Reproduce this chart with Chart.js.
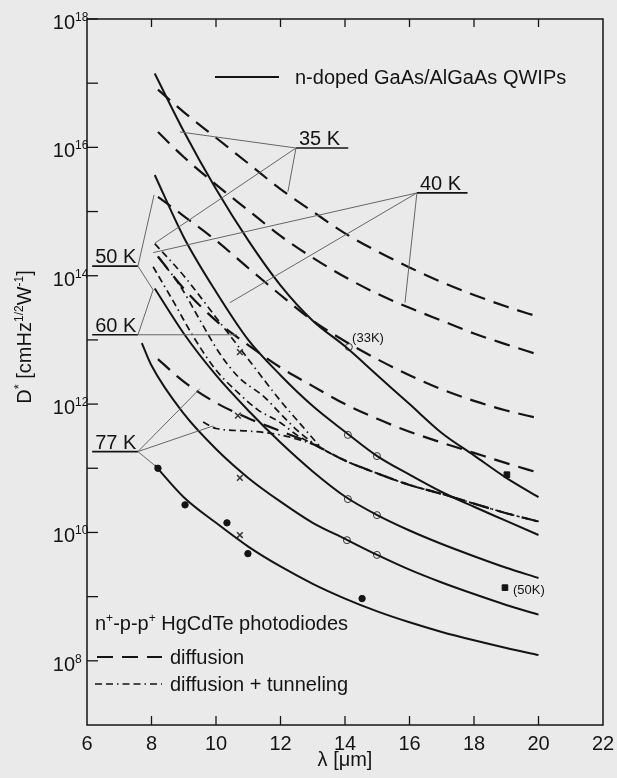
<!DOCTYPE html>
<html>
<head>
<meta charset="utf-8">
<script src="https://cdn.jsdelivr.net/npm/chart.js@4/dist/chart.umd.min.js"></script>
<style>
  html, body { margin: 0; padding: 0; background: #eaeaea; }
  #wrap { width: 617px; height: 778px; position: relative; }
</style>
</head>
<body>
<div id="wrap"><canvas id="chart"></canvas></div>
<script>
// cutoff wavelength [um] and log10 of D*
const qwipLam = [8.1, 9, 10, 11, 12, 13, 14, 15, 16, 17, 18, 19, 20];
const qwip35 = [17.15, 16.25, 15.35, 14.55, 13.85, 13.3, 12.9, 12.45, 12.0, 11.55, 11.2, 10.85, 10.55];
const qwip40 = [15.57, 14.6, 13.75, 13.0, 12.45, 11.97, 11.57, 11.19, 10.9, 10.63, 10.4, 10.18, 9.96];
const qwip50 = [13.8, 13.1, 12.45, 11.9, 11.4, 10.95, 10.56, 10.27, 10.03, 9.82, 9.63, 9.45, 9.29];
const qwip60Lam = [7.7, 8, 9, 10, 11, 12, 13, 14, 15, 16, 17, 18, 19, 20];
const qwip60 = [12.95, 12.6, 11.85, 11.3, 10.85, 10.48, 10.15, 9.9, 9.65, 9.42, 9.22, 9.04, 8.87, 8.72];
const qwip77 = [11.05, 10.55, 10.15, 9.78, 9.47, 9.2, 8.97, 8.77, 8.6, 8.45, 8.32, 8.2, 8.09];

const difLam = [8.2, 9, 10, 11, 12, 13, 14, 15, 16, 17, 18, 19, 20];
const dif1 = [16.9, 16.55, 16.15, 15.75, 15.35, 15.0, 14.66, 14.38, 14.13, 13.9, 13.7, 13.52, 13.36];
const dif2 = [16.24, 15.85, 15.42, 15.02, 14.62, 14.28, 13.98, 13.72, 13.5, 13.3, 13.1, 12.93, 12.77];
const dif3 = [15.23, 14.93, 14.55, 14.12, 13.7, 13.3, 12.98, 12.7, 12.45, 12.23, 12.05, 11.9, 11.78];
const dif4 = [14.3, 13.8, 13.3, 12.92, 12.57, 12.28, 12.0, 11.77, 11.57, 11.4, 11.24, 11.08, 10.93];
const dif5 = [12.7, 12.35, 12.02, 11.78, 11.58, 11.38, 11.12, 10.92, 10.74, 10.6, 10.45, 10.3, 10.17];

const tunALam = [8.1, 9, 10, 11, 12, 12.6, 13.2];
const tunA = [14.5, 14.0, 13.35, 12.7, 12.05, 11.7, 11.35];
const tunBLam = [8.2, 8.9, 9.5, 10.1, 10.7, 11.5, 12, 12.5, 13, 14, 15, 16, 17, 18, 19, 20];
const tunB = [14.3, 13.83, 13.31, 12.8, 12.42, 12.11, 11.85, 11.6, 11.4, 11.12, 10.92, 10.74, 10.6, 10.45, 10.3, 10.17];
const tunCLam = [8.05, 8.7, 9.3, 10, 10.7, 11.3, 12, 12.5, 13, 14, 15, 16, 17, 18, 19, 20];
const tunC = [14.14, 13.58, 13.05, 12.53, 12.17, 11.91, 11.71, 11.52, 11.38, 11.12, 10.92, 10.74, 10.6, 10.45, 10.3, 10.17];
const tunDLam = [9.6, 10, 11, 12, 12.6, 13];
const tunD = [11.72, 11.62, 11.58, 11.52, 11.44, 11.38];

// measured points
const openLam = [14.12, 14.09, 14.99, 14.09, 14.99, 14.06, 14.99];
const openVal = [12.89, 11.52, 11.19, 10.52, 10.27, 9.88, 9.65];
const dotLam = [8.2, 9.04, 10.34, 10.99, 14.53];
const dotVal = [11.0, 10.43, 10.15, 9.67, 8.97];
const crossLam = [10.74, 10.68, 10.74, 10.74];
const crossVal = [12.81, 11.82, 10.85, 9.96];
const squareLam = [19.02, 18.96];
const squareVal = [10.9, 9.14];

// temperature labels: text, underline from/to (lambda), level (log10 D*), pointer origin
const tempText = ['35 K', '40 K', '50 K', '60 K', '77 K'];
const tempFrom = [12.48, 16.23, 6.16, 6.16, 6.16];
const tempTo = [14.1, 17.8, 7.58, 7.58, 7.58];
const tempLevel = [15.99, 15.29, 14.15, 13.08, 11.26];
const pointerEnds = [
  [[8.88, 16.24], [8.11, 14.51], [12.23, 15.31]],
  [[8.05, 14.36], [10.43, 13.58], [15.86, 13.58]],
  [[8.08, 15.26], [8.05, 13.78]],
  [[8.05, 13.78], [10.65, 13.08]],
  [[9.5, 12.24], [9.91, 11.66], [8.11, 11.04]]
];
const pointerOrigin = [[12.48, 15.99], [16.23, 15.29], [7.58, 14.15], [7.58, 13.08], [7.58, 11.26]];

const xTicks = [6, 8, 10, 12, 14, 16, 18, 20, 22];
const yExps = [8, 9, 10, 11, 12, 13, 14, 15, 16, 17, 18];

const FONT = '"Liberation Sans", Arial, sans-serif';
const INK = '#141414';
const LONG = [16, 9];
const DASHDOT = [7, 4, 7, 4, 1.5, 4];

const pts = (lams, vals) => lams.map((l, i) => ({ x: l, y: Math.pow(10, vals[i]) }));

function curve(lams, vals, dash, width) {
  return {
    data: pts(lams, vals),
    borderColor: INK,
    borderWidth: width || 2,
    borderDash: dash || [],
    pointRadius: 0,
    fill: false,
    cubicInterpolationMode: 'monotone'
  };
}

function marks(lams, vals, style, radius, bg, border, bw) {
  return {
    data: pts(lams, vals),
    showLine: false,
    pointStyle: style,
    pointRadius: radius,
    backgroundColor: bg,
    borderColor: border,
    borderWidth: bw
  };
}

const datasets = [];
pointerEnds.forEach((ends, k) => {
  ends.forEach(e => {
    datasets.push({
      data: pts([pointerOrigin[k][0], e[0]], [pointerOrigin[k][1], e[1]]),
      borderColor: '#666', borderWidth: 1, pointRadius: 0, tension: 0
    });
  });
  datasets.push({
    data: pts([tempFrom[k], tempTo[k]], [tempLevel[k], tempLevel[k]]),
    borderColor: INK, borderWidth: 1.7, pointRadius: 0, tension: 0
  });
});

[qwip35, qwip40, qwip50, qwip77].forEach(v => datasets.push(curve(qwipLam, v)));
datasets.push(curve(qwip60Lam, qwip60));
[dif1, dif2, dif3, dif4, dif5].forEach(v => datasets.push(curve(difLam, v, LONG, 2.2)));
datasets.push(curve(tunALam, tunA, DASHDOT, 1.7));
datasets.push(curve(tunBLam, tunB, DASHDOT, 1.7));
datasets.push(curve(tunCLam, tunC, DASHDOT, 1.7));
datasets.push(curve(tunDLam, tunD, DASHDOT, 1.7));

datasets.push(marks(openLam, openVal, 'circle', 3.5, '#eaeaea', '#333', 1));
datasets.push(marks(dotLam, dotVal, 'circle', 3.2, INK, INK, 1));
datasets.push(marks(crossLam, crossVal, 'crossRot', 4, '#333', '#333', 1.5));
datasets.push(marks(squareLam, squareVal, 'rect', 4, INK, INK, 1));

function line(ctx, x1, y1, x2, y2) {
  ctx.beginPath(); ctx.moveTo(x1, y1); ctx.lineTo(x2, y2); ctx.stroke();
}

function rich(ctx, pieces, x, y) {
  let cx = x;
  pieces.forEach(([t, size, dy]) => {
    ctx.font = size + 'px ' + FONT;
    ctx.fillText(t, cx, y + dy);
    cx += ctx.measureText(t).width;
  });
  return cx - x;
}

function richWidth(ctx, pieces) {
  let w = 0;
  pieces.forEach(([t, size]) => { ctx.font = size + 'px ' + FONT; w += ctx.measureText(t).width; });
  return w;
}

const frame = {
  id: 'frame',
  afterDatasetsDraw(chart) {
    const { ctx, chartArea: a, scales: { x, y } } = chart;
    ctx.save();
    ctx.strokeStyle = INK;
    ctx.fillStyle = INK;
    ctx.lineWidth = 1.5;
    ctx.setLineDash([]);
    ctx.strokeRect(a.left, a.top, a.right - a.left, a.bottom - a.top);

    ctx.lineWidth = 1.3;
    xTicks.forEach(v => {
      if (v <= 6 || v >= 22) return;
      const px = x.getPixelForValue(v);
      line(ctx, px, a.bottom, px, a.bottom - 9);
      line(ctx, px, a.top, px, a.top + 8);
    });
    yExps.forEach(e => {
      const py = y.getPixelForValue(Math.pow(10, e));
      line(ctx, a.left, py, a.left + 11, py);
    });

    // tick labels
    ctx.textBaseline = 'alphabetic';
    ctx.textAlign = 'center';
    ctx.font = '20px ' + FONT;
    xTicks.forEach(v => ctx.fillText(String(v), x.getPixelForValue(v), a.bottom + 25));
    yExps.filter(e => e % 2 === 0).forEach(e => {
      const py = y.getPixelForValue(Math.pow(10, e));
      ctx.textAlign = 'right';
      ctx.font = '20px ' + FONT;
      ctx.fillText('10', a.left - 12, py + 10);
      ctx.textAlign = 'left';
      ctx.font = '12px ' + FONT;
      ctx.fillText(String(e), a.left - 12, py + 2);
    });

    // axis titles
    ctx.textAlign = 'center';
    ctx.font = '20px ' + FONT;
    ctx.fillText('\u03bb [\u03bcm]', 345, 766);
    const title = [['D', 20, 0], ['*', 13, -8], [' [cmHz', 20, 0], ['1/2', 12, -8], ['W', 20, 0], ['-1', 12, -8], [']', 20, 0]];
    ctx.save();
    ctx.translate(31, 337);
    ctx.rotate(-Math.PI / 2);
    ctx.textAlign = 'left';
    rich(ctx, title, -richWidth(ctx, title) / 2, 0);
    ctx.restore();

    // temperature labels
    ctx.textAlign = 'left';
    ctx.font = '20px ' + FONT;
    tempText.forEach((t, k) => {
      const px = x.getPixelForValue(tempFrom[k]);
      const py = y.getPixelForValue(Math.pow(10, tempLevel[k]));
      ctx.fillText(t, px + 3, py - 3);
    });

    // point annotations
    ctx.font = '13px ' + FONT;
    ctx.fillText('(33K)', x.getPixelForValue(14.22), y.getPixelForValue(Math.pow(10, 13.05)) + 5);
    ctx.fillText('(50K)', x.getPixelForValue(19.21), y.getPixelForValue(Math.pow(10, 9.12)) + 5);

    // QWIP key
    ctx.lineWidth = 2;
    line(ctx, 215, 77, 279, 77);
    ctx.font = '20px ' + FONT;
    ctx.fillText('n-doped GaAs/AlGaAs QWIPs', 295, 84);

    // HgCdTe key
    rich(ctx, [['n', 20, 0], ['+', 12, -8], ['-p-p', 20, 0], ['+', 12, -8], [' HgCdTe photodiodes', 20, 0]], 95, 630);
    ctx.lineWidth = 2.2;
    ctx.setLineDash(LONG);
    line(ctx, 97, 657, 162, 657);
    ctx.lineWidth = 1.7;
    ctx.setLineDash(DASHDOT);
    line(ctx, 95, 684, 162, 684);
    ctx.setLineDash([]);
    ctx.font = '20px ' + FONT;
    ctx.fillText('diffusion', 170, 664);
    ctx.fillText('diffusion + tunneling', 170, 691);
    ctx.restore();
  }
};

new Chart(document.getElementById('chart').getContext('2d'), {
  type: 'line',
  data: { datasets },
  options: {
    responsive: true,
    maintainAspectRatio: false,
    animation: false,
    layout: { padding: { left: 87, right: 14, top: 19, bottom: 53 } },
    plugins: { legend: { display: false }, tooltip: { enabled: false } },
    scales: {
      x: { type: 'linear', min: 6, max: 22, display: false },
      y: { type: 'logarithmic', min: 1e7, max: 1e18, display: false }
    }
  },
  plugins: [frame]
});
</script>
</body>
</html>
